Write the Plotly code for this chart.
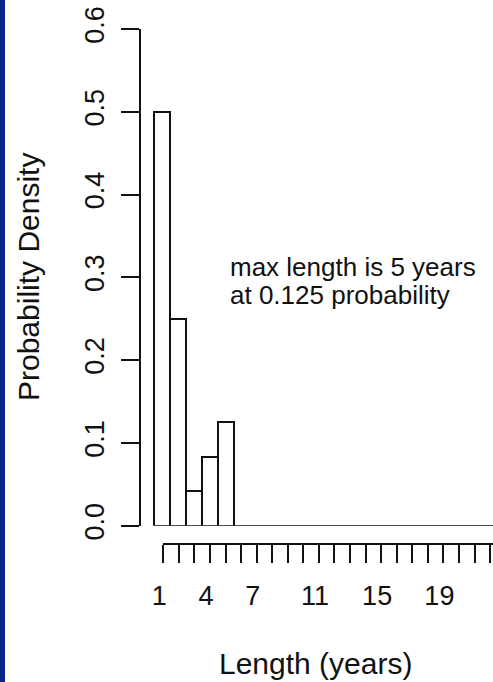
import plotly.graph_objects as go

# ---- data ----
lengths = [1, 2, 3, 4, 5, 6, 7, 8, 9, 10, 11, 12, 13, 14, 15, 16, 17, 18, 19, 20, 21, 22]
density = [0.5, 0.25, 0.0417, 0.0833, 0.125, 0, 0, 0, 0, 0, 0, 0, 0, 0, 0, 0, 0, 0, 0, 0, 0, 0]
x_tick_vals = [1, 2, 3, 4, 5, 6, 7, 8, 9, 10, 11, 12, 13, 14, 15, 16, 17, 18, 19, 20, 21, 22]
x_tick_text = ["1", "", "", "4", "", "", "7", "", "", "", "11", "", "", "", "15", "", "", "", "19", "", "", ""]
y_tick_vals = [0.0, 0.1, 0.2, 0.3, 0.4, 0.5, 0.6]
y_tick_text = ["0.0", "0.1", "0.2", "0.3", "0.4", "0.5", "0.6"]
note_lines = ["max length is 5 years", "at 0.125 probability"]

W, H = 493, 682
ML, MR, MT, MB = 141, 0, 29, 138
PW = W - ML - MR
PH = H - MT - MB

def px_x(p):
    return (p - ML) / PW

def px_y(p):
    return (H - MB - p) / PH

FONT = "Liberation Sans, Arial, sans-serif"
INK = "#111111"

fig = go.Figure()
fig.add_trace(go.Bar(
    x=lengths, y=density,
    marker=dict(color="white", line=dict(color=INK, width=2)),
    width=1.0, showlegend=False, hoverinfo="skip",
))
# carrier for the separate, offset x axis (R style)
fig.add_trace(go.Scatter(
    x=x_tick_vals, y=[None] * len(x_tick_vals), xaxis="x2", yaxis="y",
    mode="markers", showlegend=False, hoverinfo="skip",
))

unit_bar = 16.0
bar_r0 = 1 - (161.7 - ML) / unit_bar
bar_r1 = bar_r0 + PW / unit_bar
unit_tick = 15.56
tick_r0 = 1.0
tick_r1 = 1 + (W - 163.3) / unit_tick

fig.update_layout(
    width=W, height=H,
    margin=dict(l=ML, r=MR, t=MT, b=MB),
    paper_bgcolor="white", plot_bgcolor="rgba(0,0,0,0)",
    bargap=0,
    xaxis=dict(
        domain=[0, 1], range=[bar_r0, bar_r1],
        showline=False, showticklabels=False, ticks="", showgrid=False, zeroline=False,
    ),
    xaxis2=dict(
        domain=[px_x(163.3), 1], range=[tick_r0, tick_r1],
        anchor="free", position=0,
        showline=True, linecolor=INK, linewidth=2,
        ticks="outside", ticklen=18, tickwidth=2, tickcolor=INK,
        tickvals=x_tick_vals, ticktext=x_tick_text,
        tickfont=dict(family=FONT, size=27, color=INK),
        ticklabelstandoff=10, ticklabelshift=-4,
        showgrid=False, zeroline=False,
    ),
    yaxis=dict(
        domain=[px_y(525.7), 1], range=[0, 0.6],
        showline=True, linecolor=INK, linewidth=2,
        ticks="outside", ticklen=18, tickwidth=2, tickcolor=INK,
        tickvals=y_tick_vals, ticktext=y_tick_text, tickangle=-90,
        tickfont=dict(family=FONT, size=27, color=INK),
        ticklabelstandoff=6,
        showgrid=False, zeroline=False,
    ),
    shapes=[dict(
        type="rect", xref="paper", yref="paper",
        x0=px_x(0), x1=px_x(5), y0=px_y(H + 5), y1=px_y(-5),
        fillcolor="#0b2689", line=dict(width=0), layer="below",
    )],
    annotations=[
        dict(text="Probability Density", xref="paper", yref="paper",
             x=px_x(28), y=px_y(277), xanchor="center", yanchor="middle",
             textangle=-90, showarrow=False,
             font=dict(family=FONT, size=30, color=INK)),
        dict(text="Length (years)", xref="paper", yref="paper",
             x=px_x(315), y=px_y(663), xanchor="center", yanchor="middle",
             showarrow=False,
             font=dict(family=FONT, size=30, color=INK)),
        dict(text=note_lines[0], xref="paper", yref="paper",
             x=px_x(228), y=px_y(267), xanchor="left", yanchor="middle",
             showarrow=False,
             font=dict(family=FONT, size=26, color=INK)),
        dict(text=note_lines[1], xref="paper", yref="paper",
             x=px_x(228), y=px_y(295), xanchor="left", yanchor="middle",
             showarrow=False,
             font=dict(family=FONT, size=26, color=INK)),
    ],
)

fig.write_html("out.html")
